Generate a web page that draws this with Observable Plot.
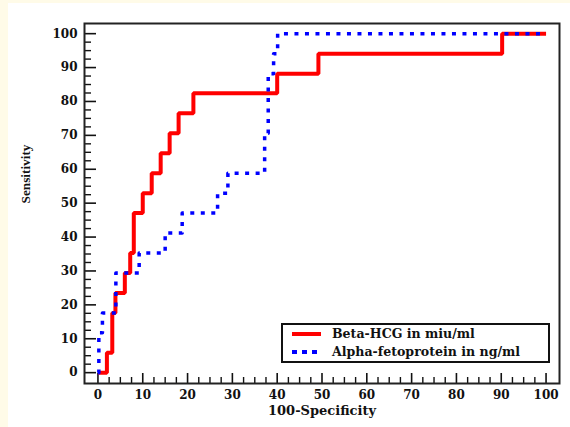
<!DOCTYPE html>
<html><head><meta charset="utf-8">
<script src="https://cdn.jsdelivr.net/npm/d3@7"></script>
<script src="https://cdn.jsdelivr.net/npm/@observablehq/plot@0.6"></script>
<style>
body{margin:0;background:#fffbe8;}
#wrap{position:absolute;left:8px;top:3px;width:562px;height:424px;background:#fff;overflow:hidden;}
#legend{position:absolute;left:273px;top:320px;width:265px;height:36px;border:2px solid #111;background:#fff;font-family:"DejaVu Serif";font-weight:bold;color:#111;}
#legend .sw{position:absolute;left:9px;width:29px;height:4px;}
#legend .tx{position:absolute;left:49px;line-height:14px;white-space:nowrap;}
</style></head><body><div id="wrap"><div id="legend"></div></div>
<script>
// ROC curve vertices (100-Specificity, Sensitivity)
const betaFpr  = [0, 2, 3.2, 3.9, 6, 7.2, 8, 10, 12, 14, 16, 18, 21.3, 40, 49.2, 90.2, 100];
const betaSens = [0, 5.9, 17.6, 23.5, 29.4, 35.3, 47.1, 52.9, 58.8, 64.7, 70.6, 76.5, 82.4, 88.2, 94.1, 100, 100];
const afpFpr   = [0, 0.2, 1, 4, 9.2, 15, 18.8, 26.7, 29, 37.2, 38, 39.2, 40.1, 100];
const afpSens  = [0, 11.8, 17.6, 29.4, 35.3, 41.2, 47.1, 52.9, 58.8, 70.6, 88.2, 94.1, 100, 100];
const seriesNames = ["Beta-HCG in miu/ml", "Alpha-fetoprotein in ng/ml"];
const seriesColors = ["#ff0000", "#0000ff"];
const majorTicks = d3.range(0, 101, 10);
const minorTicks = d3.range(0, 100.01, 2.5).filter(v => v % 10 !== 0);

const beta = betaFpr.map((x, i) => ({x, y: betaSens[i]}));
const afp = afpFpr.map((x, i) => ({x, y: afpSens[i]}));

// fit font sizes to the text widths seen in the reference
const ctx = document.createElement("canvas").getContext("2d");
function fit(text, family, target) {
  ctx.font = `bold 100px ${family}`;
  return 100 * target / ctx.measureText(text).width;
}
const tickSize = fit("100", '"DejaVu Serif"', 25);
const xLabSize = fit("100-Specificity", '"DejaVu Serif"', 108);
const yLabSize = fit("Sensitivity", '"Liberation Serif"', 59);
const legSize = (fit(seriesNames[0], '"DejaVu Serif"', 144) + fit(seriesNames[1], '"DejaVu Serif"', 187)) / 2;

const tickFont = {fontFamily: "DejaVu Serif", fontWeight: "bold", fontSize: tickSize, fill: "#111"};

const chart = Plot.plot({
  width: 562, height: 424,
  marginLeft: 76, marginRight: 11, marginTop: 20, marginBottom: 44,
  style: {background: "#fff", overflow: "visible"},
  x: {domain: [-3, 103]},
  y: {domain: [-3.2, 103]},
  marks: [
    Plot.axisX({ticks: majorTicks, anchor: "bottom", tickSize: 0, tickPadding: 7, label: null, ...tickFont}),
    Plot.axisX({ticks: majorTicks, anchor: "bottom", tickSize: -10, tickFormat: () => "", label: null, strokeWidth: 1.6, stroke: "#111"}),
    Plot.axisX({ticks: minorTicks, anchor: "bottom", tickSize: -6, tickFormat: () => "", label: null, strokeWidth: 1.4, stroke: "#111"}),
    Plot.axisY({ticks: majorTicks, anchor: "left", tickSize: 0, tickPadding: 7, label: null, ...tickFont}),
    Plot.axisY({ticks: majorTicks, anchor: "left", tickSize: -12, tickFormat: () => "", label: null, strokeWidth: 1.6, stroke: "#111"}),
    Plot.axisY({ticks: minorTicks, anchor: "left", tickSize: -7, tickFormat: () => "", label: null, strokeWidth: 1.4, stroke: "#111"}),
    Plot.frame({stroke: "#222", strokeWidth: 2}),
    Plot.line(beta, {x: "x", y: "y", curve: "step-after", stroke: seriesColors[0], strokeWidth: 4, strokeLinejoin: "miter", strokeLinecap: "butt"}),
    Plot.line(afp, {x: "x", y: "y", curve: "step-after", stroke: seriesColors[1], strokeWidth: 3.5, strokeDasharray: "4,6.5", strokeLinecap: "butt"}),
    Plot.text(["100-Specificity"], {frameAnchor: "bottom", dy: 31, fontFamily: "DejaVu Serif", fontWeight: "bold", fontSize: xLabSize, fill: "#111"}),
    Plot.text(["Sensitivity"], {frameAnchor: "left", dx: -59, rotate: -90, fontFamily: "Liberation Serif", fontWeight: "bold", fontSize: yLabSize, fill: "#111"})
  ]
});
document.getElementById("wrap").prepend(chart);

const legend = document.getElementById("legend");
legend.style.fontSize = legSize + "px";
seriesNames.forEach((name, i) => {
  const top = i === 0 ? 7 : 25;
  const sw = document.createElement("div");
  sw.className = "sw";
  sw.style.top = top + "px";
  if (i === 0) sw.style.background = seriesColors[0];
  else sw.style.background = `repeating-linear-gradient(90deg, ${seriesColors[1]} 0 5px, transparent 5px 10px)`;
  legend.appendChild(sw);
  const tx = document.createElement("div");
  tx.className = "tx";
  tx.style.top = (top - 5) + "px";
  tx.textContent = name;
  legend.appendChild(tx);
});
</script></body></html>
